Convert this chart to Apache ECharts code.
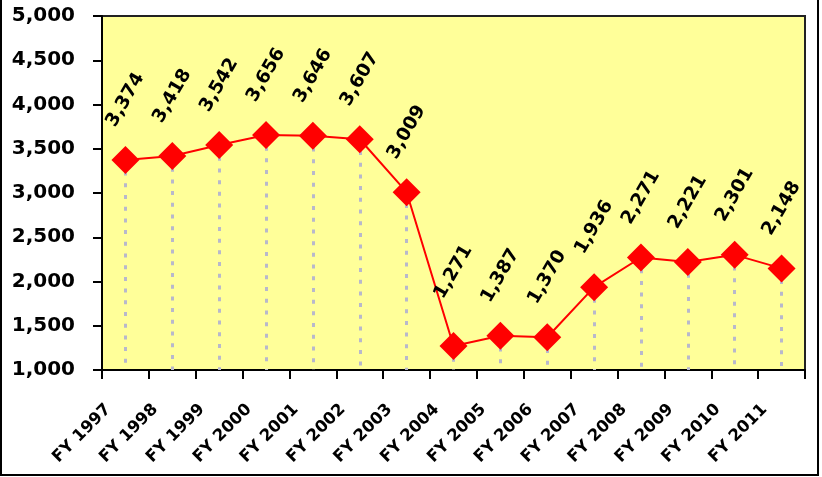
<!DOCTYPE html>
<html>
<head>
<meta charset="utf-8">
<script src="https://cdn.jsdelivr.net/npm/echarts@6/dist/echarts.min.js"></script>
<style>
html,body{margin:0;padding:0;background:#fff;}
#chart{width:822px;height:477px;}
</style>
</head>
<body>
<div id="chart"></div>
<script>
const categories = ['FY 1997','FY 1998','FY 1999','FY 2000','FY 2001','FY 2002','FY 2003','FY 2004','FY 2005','FY 2006','FY 2007','FY 2008','FY 2009','FY 2010','FY 2011'];
const values = [3374, 3418, 3542, 3656, 3646, 3607, 3009, 1271, 1387, 1370, 1936, 2271, 2221, 2301, 2148];
const yMin = 1000, yMax = 5000, yStep = 500;

const fmt = v => Number(v).toLocaleString('en-US');
const font = 'DejaVu Sans';

const chart = echarts.init(document.getElementById('chart'));
chart.setOption({
  animation: false,
  backgroundColor: '#ffffff',
  grid: {left: 102, right: 17, top: 16, bottom: 107, show: true, backgroundColor: '#ffff99', borderColor: '#222', borderWidth: 2},
  xAxis: {
    type: 'category', data: categories, boundaryGap: true,
    axisLine: {lineStyle: {color: '#000', width: 2}},
    axisTick: {show: true, inside: false, length: 9, lineStyle: {color: '#000', width: 2}, alignWithLabel: false},
    axisLabel: {rotate: 45, interval: 0, margin: 20, color: '#000', fontFamily: font, fontWeight: 'bold', fontSize: 16.5, padding: [0, 24, 0, 0]},
    splitLine: {show: false}
  },
  yAxis: {
    type: 'value', min: yMin, max: yMax, interval: yStep,
    axisLine: {show: true, lineStyle: {color: '#000', width: 2}},
    axisTick: {show: true, inside: false, length: 9, lineStyle: {color: '#000', width: 2}},
    axisLabel: {margin: 27, color: '#000', fontFamily: font, fontWeight: 'bold', fontSize: 20, formatter: v => fmt(v)},
    splitLine: {show: false}
  },
  graphic: [{
    type: 'rect', silent: true, z: 100,
    shape: {x: 1, y: -10, width: 817, height: 485},
    style: {fill: 'none', stroke: '#000', lineWidth: 2}
  }],
  series: [
    {
      type: 'line', data: values, symbol: 'none', z: 1,
      lineStyle: {width: 0, opacity: 0},
      markLine: {
        silent: true, symbol: ['none', 'none'], z: 1,
        label: {show: false},
        lineStyle: {color: '#b8b8cc', width: 3, type: [4, 7.7]},
        data: values.map((v, i) => [{coord: [i, v]}, {coord: [i, yMin]}])
      }
    },
    {
      type: 'line', data: values.map((v, i) => i === 7 ? {value: v, label: {distance: 60}} : v),
      z: 3,
      symbol: 'diamond', symbolSize: 28,
      itemStyle: {color: '#ff0000'},
      lineStyle: {color: '#ff0000', width: 2},
      label: {
        show: true, position: 'top', distance: 46, rotate: 60,
        align: 'center', verticalAlign: 'middle',
        color: '#000', fontFamily: font, fontWeight: 'bold', fontSize: 18.5,
        formatter: p => fmt(p.value)
      }
    }
  ]
});
</script>
</body>
</html>
